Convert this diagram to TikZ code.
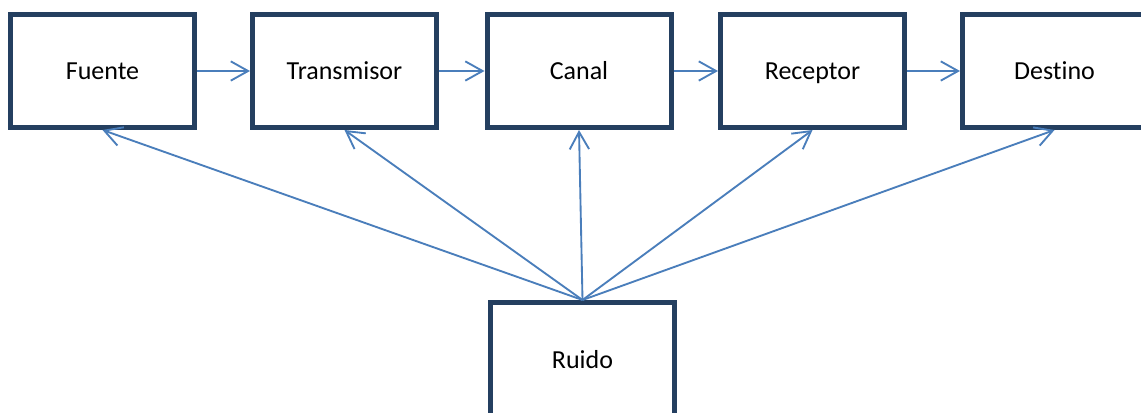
\documentclass[tikz,border=0pt]{standalone}
\usepackage{fontspec}
\setmainfont{Carlito}[Ligatures=NoCommon]
\usetikzlibrary{arrows.meta}
\definecolor{boxline}{HTML}{243F60}
\definecolor{linkline}{HTML}{4A7EBB}
\begin{document}
\begin{tikzpicture}[x=0.75pt,y=-0.75pt,
  block/.style={draw=boxline,line width=3.75pt,fill=white,
    minimum width=138pt,minimum height=84.75pt,inner sep=0pt,
    text height=17pt,text depth=3.5pt,
    font=\fontsize{19.5}{23}\selectfont},
  link/.style={draw=linkline,line width=1.4pt,
    -{Straight Barb[length=13pt,width=14.5pt,line width=1.4pt]}}]
  \clip (0,0) rectangle (1141,413);
  \fill[white] (0,0) rectangle (1141,413);
  \node[block] (fuente)  at (102.5,71) {Fuente};
  \node[block] (trans)   at (344.5,71) {Transmisor};
  \node[block] (canal)   at (579,71)   {Canal};
  \node[block] (recep)   at (812.5,71) {Receptor};
  \node[block] (destino) at (1054.5,71) {Destino};
  \node[block] (ruido)   at (582.5,359) {Ruido};
  \draw[link] (fuente.east) -- (trans.west);
  \draw[link] (trans.east) -- (canal.west);
  \draw[link] (canal.east) -- (recep.west);
  \draw[link] (recep.east) -- (destino.west);
  \foreach \b in {fuente,trans,canal,recep,destino}
    \draw[link] (ruido.north) -- (\b.south);
\end{tikzpicture}
\end{document}
